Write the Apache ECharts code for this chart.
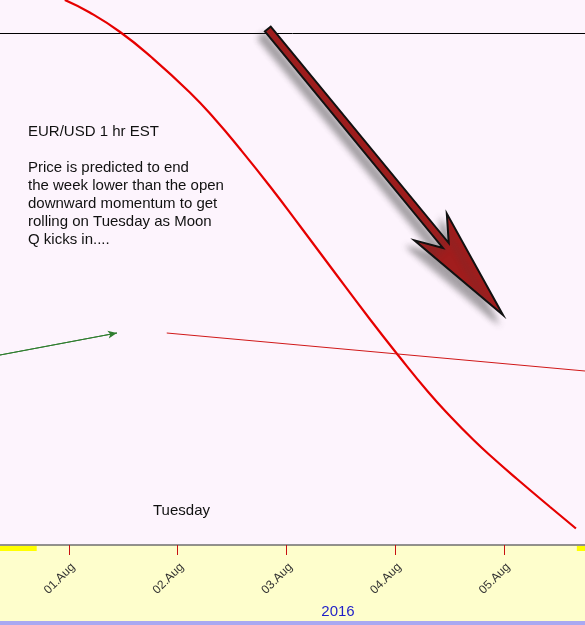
<!DOCTYPE html>
<html>
<head>
<meta charset="utf-8">
<script src="https://cdn.jsdelivr.net/npm/echarts@6/dist/echarts.min.js"></script>
<style>
  html, body { margin: 0; padding: 0; }
  #container { width: 585px; height: 625px; }
</style>
</head>
<body>
<div id="container"></div>
<script type="text/javascript">
// x = hours from 01.Aug 00:00, y = EUR/USD price
var tickHours = [0, 24, 48, 72, 96];
var tickLabels = ['01.Aug', '02.Aug', '03.Aug', '04.Aug', '05.Aug'];

// projected path (red curve)
var curveHours = [-0.9, 4.6, 11.3, 18.3, 26.7, 32.2, 37.7, 44.4, 51.0, 57.6, 66.4, 72.8, 79.2, 84.1, 89.2, 93.6, 98.9, 106.2, 111.9];
var curvePrice = [1.12500, 1.12475, 1.12436, 1.12385, 1.12315, 1.12262, 1.12203, 1.12127, 1.12048, 1.11968, 1.11862, 1.11788, 1.11717, 1.11668, 1.11621, 1.11584, 1.11542, 1.11486, 1.11443];

// trend lines
var greenHours = [-15.2, 10.6];
var greenPrice = [1.11790, 1.11834];
var trendHours = [21.6, 113.9];
var trendPrice = [1.11834, 1.11758];

// weekly open level
var openHours = [-15.2, 113.9];
var openLevel = 1.12433;

// big down arrow: tail / tip
var arrowHours = [43.9, 95.8];
var arrowPrice = [1.12442, 1.11870];

// small yellow markers on the axis
var markSpans = [[-15.2, -7.1], [112.1, 113.9]];

var noteText = 'EUR/USD 1 hr EST\n\nPrice is predicted to end\nthe week lower than the open\ndownward momentum to get\nrolling on Tuesday as Moon\nQ kicks in....';

function zip(xs, ys) {
  var out = [];
  for (var i = 0; i < xs.length; i++) out.push([xs[i], ys[i]]);
  return out;
}

var myChart = echarts.init(document.getElementById('container'));
var font = '"Liberation Sans", Arial, sans-serif';

var option = {
  animation: false,
  backgroundColor: '#fefecc',
  grid: {
    left: 0, right: 0, top: 0, bottom: 80,
    show: true,
    backgroundColor: '#fdf4fd',
    borderWidth: 0
  },
  xAxis: {
    type: 'value',
    min: -15.2,
    max: 113.9,
    splitLine: { show: false },
    axisLine: { show: true, onZero: false, lineStyle: { color: '#6e6e6e', width: 1.5 } },
    axisTick: {
      show: true,
      customValues: tickHours,
      length: 10,
      lineStyle: { color: '#c81010', width: 1 }
    },
    axisLabel: {
      customValues: tickHours,
      rotate: 45,
      margin: 16,
      verticalAlign: 'top',
      color: '#333',
      fontSize: 12,
      fontFamily: font,
      formatter: function (v) {
        return tickLabels[tickHours.indexOf(v)] || '';
      }
    }
  },
  yAxis: {
    type: 'value',
    min: 1.1141,
    max: 1.1250,
    show: false,
    splitLine: { show: false }
  },
  series: [
    {
      type: 'line',
      data: zip(openHours, [openLevel, openLevel]),
      showSymbol: false,
      silent: true,
      lineStyle: { color: '#000', width: 1 },
      z: 2
    },
    {
      type: 'line',
      data: zip(curveHours, curvePrice),
      smooth: 0.5,
      showSymbol: false,
      lineStyle: { color: '#e60000', width: 2.2 },
      z: 3
    },
    {
      type: 'line',
      data: zip(greenHours, greenPrice),
      showSymbol: false,
      lineStyle: { color: '#2f7d2f', width: 1 },
      markLine: {
        silent: true,
        symbol: ['none', 'arrow'],
        symbolSize: [6, 9],
        label: { show: false },
        lineStyle: { color: '#2f7d2f', width: 1, type: 'solid' },
        data: [[{ coord: [greenHours[0], greenPrice[0]] }, { coord: [greenHours[1], greenPrice[1]] }]]
      }
    },
    {
      type: 'line',
      data: zip(trendHours, trendPrice),
      showSymbol: false,
      lineStyle: { color: '#d01818', width: 1 }
    }
  ]
};
myChart.setOption(option);

// decorations placed through the chart's own coordinate system
var toPx = function (h, p) { return myChart.convertToPixel({ gridIndex: 0 }, [h, p]); };
var a0 = toPx(arrowHours[0], arrowPrice[0]);
var a1 = toPx(arrowHours[1], arrowPrice[1]);
var dx = a1[0] - a0[0], dy = a1[1] - a0[1];
var L = Math.sqrt(dx * dx + dy * dy);
var ux = dx / L, uy = dy / L, nx = -uy, ny = ux;
var shape = [[0, -3.8], [L - 90, -3.8], [L - 114, -21], [L, 0], [L - 114, 21], [L - 90, 3.8], [0, 3.8]];
var arrowPts = shape.map(function (s) {
  return [a0[0] + s[0] * ux + s[1] * nx, a0[1] + s[0] * uy + s[1] * ny];
});

var axisY = toPx(0, 1.1141)[1];
var graphics = [
  {
    type: 'polygon',
    shape: { points: arrowPts },
    style: {
      fill: '#a11d1d', stroke: '#111', lineWidth: 2, lineJoin: 'miter',
      shadowBlur: 6, shadowOffsetX: -6, shadowOffsetY: 7, shadowColor: 'rgba(60,60,60,0.45)'
    },
    z: 10
  },
  {
    type: 'text', left: 28, top: 123,
    style: { text: noteText, font: '15px ' + font, fill: '#111', lineHeight: 18 },
    z: 10
  },
  {
    type: 'text', left: 153, top: 503,
    style: { text: 'Tuesday', font: '15px ' + font, fill: '#111' },
    z: 10
  },
  {
    type: 'text', x: 338, y: 612,
    style: { text: '2016', font: '15px ' + font, fill: '#1f1fc8', align: 'center', verticalAlign: 'middle' },
    z: 10
  },
  {
    type: 'rect',
    shape: { x: 0, y: 621, width: 585, height: 4 },
    style: { fill: '#a9a9f2' },
    z: 10
  }
];
markSpans.forEach(function (sp) {
  var p0 = toPx(sp[0], 1.1141), p1 = toPx(sp[1], 1.1141);
  graphics.push({
    type: 'rect',
    shape: { x: p0[0], y: axisY + 1, width: p1[0] - p0[0], height: 5 },
    style: { fill: '#ffff00' },
    z: 9
  });
});
myChart.setOption({ graphic: graphics });
</script>
</body>
</html>
